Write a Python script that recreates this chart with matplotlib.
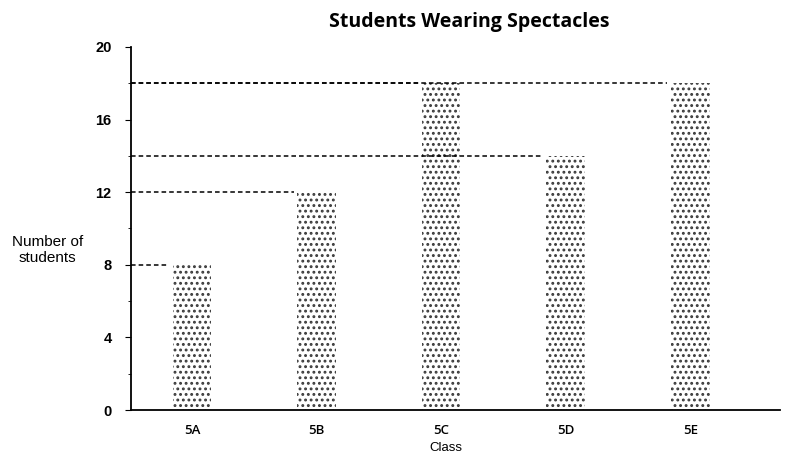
import matplotlib.pyplot as plt

classes = ['5A', '5B', '5C', '5D', '5E']
students = [8, 12, 18, 14, 18]

fig = plt.figure(figsize=(7.98, 4.55), dpi=100)
ax = fig.add_axes([131 / 798, 1 - 410 / 455, (780 - 131) / 798, (410 - 47) / 455])

x = list(range(len(classes)))
bw = 0.31
plt.rcParams['hatch.linewidth'] = 1.3
plt.rcParams['hatch.color'] = '#3a3a3a'
bars = ax.bar(x, students, width=bw, color='white', edgecolor='#3a3a3a',
              hatch='...', linewidth=0)

# dashed guide lines from the axis to each bar
for i, v in enumerate(students):
    ax.plot([-0.49, i - bw / 2 - 0.03], [v, v], color='black', lw=1.1, ls=(0, (3, 2)))

ax.set_xlim(-0.49, 4.72)
ax.set_ylim(0, 20)
ax.set_yticks([0, 4, 8, 12, 16, 20])
ax.set_yticks([2, 6, 10, 14, 18], minor=True)
ax.set_xticks(x)
ax.set_xticklabels(classes, fontfamily='Open Sans', fontsize=9.5, fontweight='semibold')
for lab in ax.get_yticklabels():
    lab.set_fontfamily('Liberation Sans')
    lab.set_fontsize(10.5)
    lab.set_fontweight('bold')
ax.tick_params(axis='x', length=0, pad=10)
ax.tick_params(axis='y', which='major', length=4, direction='out', pad=10)
ax.tick_params(axis='y', which='minor', length=2, direction='out')
for s in ['top', 'right']:
    ax.spines[s].set_visible(False)
ax.spines['left'].set_linewidth(1.3)
ax.spines['bottom'].set_linewidth(1.3)

ax.set_ylabel('Number of\nstudents', rotation=0, fontfamily='Liberation Sans',
              fontsize=11, ha='center', va='center', labelpad=0)
ax.yaxis.set_label_coords(-0.129, 0.44)
fig.text(446 / 798, 1 / 455, 'Class', ha='center', va='bottom',
         fontfamily='Liberation Sans', fontsize=9.5)
fig.text(469 / 798, 1 - 22 / 455, 'Students Wearing Spectacles', ha='center', va='center',
         fontfamily='Open Sans', fontweight='bold', fontsize=14)

fig.savefig('out.png', dpi=100)
